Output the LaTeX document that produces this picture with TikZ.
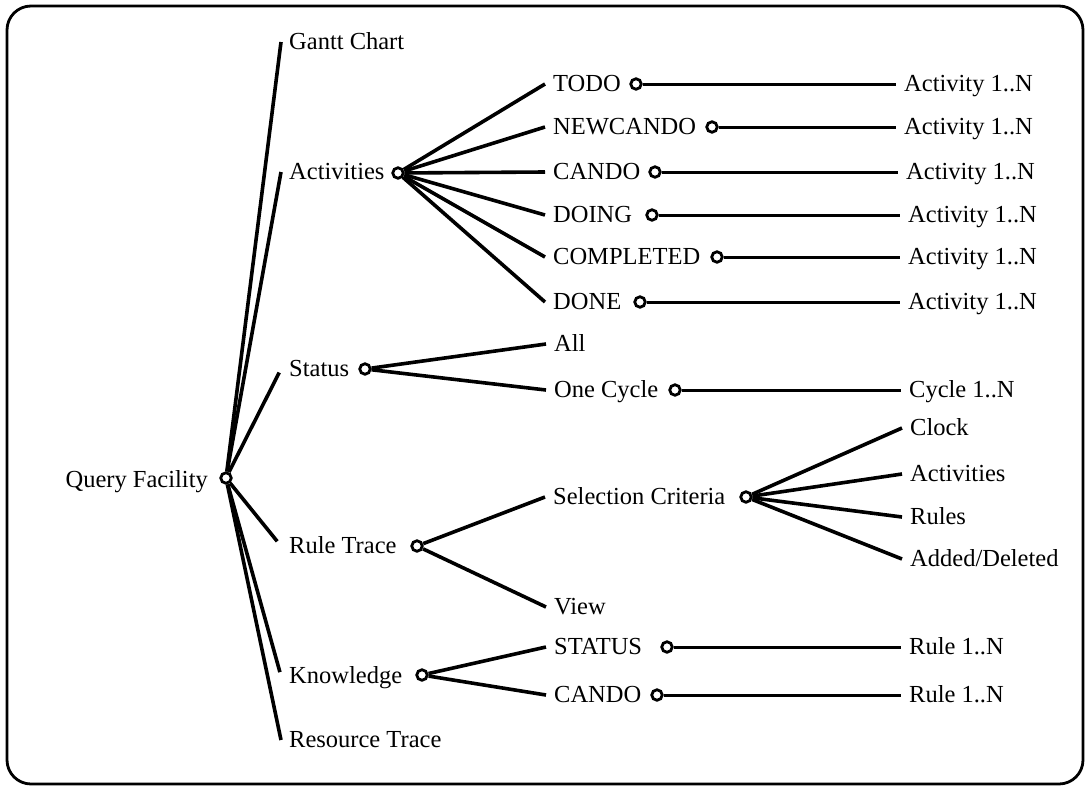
\documentclass[tikz,border=0pt]{standalone}
\usepackage{fontspec}
\setmainfont{Liberation Serif}
\begin{document}
\begin{tikzpicture}[x=1pt,y=-1pt,
  every node/.style={font=\fontsize{24.5}{29}\selectfont},
  lbl/.style={anchor=west, inner xsep=8pt, inner ysep=0pt, text height=16.5pt, text depth=1pt},
  knot/.style={circle, draw, fill=white, line width=2.8pt, minimum size=10.5pt, inner sep=0pt},
  branch/.style={line width=3.6pt},
  leaf/.style={line width=3pt}]

\useasboundingbox (0,0) rectangle (1086,787);
% outer frame
\draw[line width=2.8pt, rounded corners=24pt] (7,6) rectangle (1083,784);

% root
\node[knot] (qf) at (226,478) {};
\node[anchor=base east, inner sep=0pt] (qft) at (208,487) {Query Facility};

% first level
\node[lbl] (gantt) at (281,42)  {Gantt Chart};
\node[lbl] (act)   at (281,172) {Activities};
\node[lbl] (stat)  at (281,369) {Status};
\node[lbl] (rt)    at (281,546) {Rule Trace};
\node[lbl] (know)  at (281,676) {Knowledge};
\node[lbl] (res)   at (281,740) {Resource Trace};

\draw[branch] (qf) -- (gantt.west);
\draw[branch] (qf) -- (act.west);
\draw[branch, shorten >=4pt] (qf) -- (stat.west);
\draw[branch, shorten >=6pt] (qf) -- (rt.west);
\draw[branch, shorten >=4pt] (qf) -- (know.west);
\draw[branch] (qf) -- (res.west);

\node[knot] (actc)  at (398,173) {};
\node[knot] (statc) at (365,369) {};
\node[knot] (rtc)   at (417,546) {};
\node[knot] (knowc) at (422,675) {};

% activities
\node[lbl] (todo)  at (545,84)  {TODO};
\node[lbl] (newc)  at (545,127) {NEWCANDO};
\node[lbl] (cando) at (545,172) {CANDO};
\node[lbl] (doing) at (545,215) {DOING};
\node[lbl] (compl) at (545,257) {COMPLETED};
\node[lbl] (done)  at (545,302) {DONE};
\foreach \n in {todo,newc,cando,doing,compl,done}
  \draw[branch] (actc) -- (\n.west);

\node[knot] (todoc)  at (636,84)  {};
\node[knot] (newcc)  at (712,127) {};
\node[knot] (candoc) at (655,172) {};
\node[knot] (doingc) at (652,215) {};
\node[knot] (complc) at (717,257) {};
\node[knot] (donec)  at (640,302) {};

\node[lbl] (todoa)  at (896,84)  {Activity 1..N};
\node[lbl] (newca)  at (896,127) {Activity 1..N};
\node[lbl] (candoa) at (898,172) {Activity 1..N};
\node[lbl] (doinga) at (900,215) {Activity 1..N};
\node[lbl] (compla) at (900,257) {Activity 1..N};
\node[lbl] (donea)  at (900,302) {Activity 1..N};
\foreach \n in {todo,newc,cando,doing,compl,done}
  \draw[leaf] (\n c) -- (\n a.west);

% status
\node[lbl] (all)  at (546,344) {All};
\node[lbl] (onec) at (546,390) {One Cycle};
\draw[branch] (statc) -- (all.west);
\draw[branch] (statc) -- (onec.west);
\node[knot] (onecc) at (675,390) {};
\node[lbl] (cyc) at (901,390) {Cycle 1..N};
\draw[leaf] (onecc) -- (cyc.west);

% rule trace
\node[lbl] (sel)  at (545,497) {Selection Criteria};
\node[lbl] (view) at (546,607) {View};
\draw[branch] (rtc) -- (sel.west);
\draw[branch] (rtc) -- (view.west);
\node[knot] (selc) at (746,497) {};
\node[lbl] (clock) at (902,428) {Clock};
\node[lbl] (sact)  at (902,474) {Activities};
\node[lbl] (rules) at (902,517) {Rules};
\node[lbl] (added) at (902,559) {Added/Deleted};
\foreach \n in {clock,sact,rules,added}
  \draw[branch] (selc) -- (\n.west);

% knowledge
\node[lbl] (kstat)  at (546,647) {STATUS};
\node[lbl] (kcando) at (546,695) {CANDO};
\draw[branch] (knowc) -- (kstat.west);
\draw[branch] (knowc) -- (kcando.west);
\node[knot] (kstatc)  at (667,647) {};
\node[knot] (kcandoc) at (657,695) {};
\node[lbl] (kstatr)  at (901,647) {Rule 1..N};
\node[lbl] (kcandor) at (901,695) {Rule 1..N};
\draw[leaf] (kstatc) -- (kstatr.west);
\draw[leaf] (kcandoc) -- (kcandor.west);
\end{tikzpicture}
\end{document}
